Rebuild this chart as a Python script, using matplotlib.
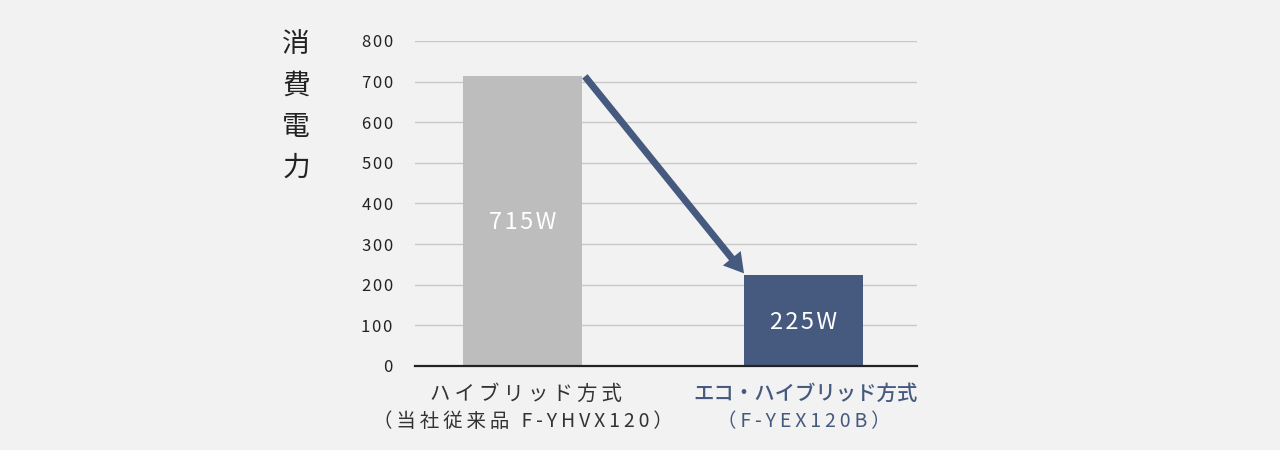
import matplotlib
matplotlib.use('Agg')
import matplotlib.pyplot as plt
from matplotlib.transforms import blended_transform_factory

plt.rcParams['font.family'] = ['Noto Sans CJK JP', 'DejaVu Sans']

# data
cat_line1 = ['ハイブリッド方式', 'エコ・ハイブリッド方式']
cat_line2 = ['（当社従来品 F-YHVX120）', '（F-YEX120B）']
values = [715, 225]
value_labels = ['715W', '225W']
yticks = [0, 100, 200, 300, 400, 500, 600, 700, 800]
ylabel = '消\n費\n電\n力'

bar_colors = ['#bdbdbd', '#465a7f']
label_colors = ['#333333', '#465a7f']
line1_weight = ['normal', 'medium']
line1_shift = [0.012, 0.007]
bg = '#f2f2f2'
bw = 0.4235

THIN = '\u2009'
HAIR = '\u200a'
line1_gap = [THIN, '']


def spaced(s, sp):
    # letter spacing by padding characters with narrow spaces
    return sp.join(s)


fig = plt.figure(figsize=(12.8, 4.5), dpi=100, facecolor=bg)
ax = fig.add_axes([0.3242, 0.1867, 0.3922, 0.7222], facecolor=bg)

xs = list(range(len(values)))
ax.bar(xs, values, width=bw, color=bar_colors, zorder=3)
for x, v, t in zip(xs, values, value_labels):
    ax.text(x, v / 2 - 5, spaced(t, HAIR), color='white', fontsize=17, ha='center', va='center', zorder=4)

# arrow between the bar tops
ax.annotate('', xy=(xs[1] - bw / 2, values[1] + 3), xytext=(xs[0] + bw / 2 + 0.01, values[0] - 2),
            arrowprops=dict(arrowstyle='simple,tail_width=0.5,head_width=1.65,head_length=1.4',
                            mutation_scale=10, color='#465a7f', lw=0, shrinkA=0, shrinkB=0), zorder=5)

ax.set_xlim(-0.383, 1.404)
ax.set_ylim(0, 800)
ax.set_yticks(yticks)
ax.set_yticklabels([spaced(str(t), HAIR) for t in yticks])
ax.yaxis.grid(True, color='#c8c8c8', lw=1, zorder=0)
ax.set_axisbelow(True)
for s in ['top', 'right', 'left']:
    ax.spines[s].set_visible(False)
ax.spines['bottom'].set_color('#222222')
ax.spines['bottom'].set_linewidth(1.6)
ax.spines['bottom'].set_zorder(6)
ax.tick_params(axis='y', length=0, pad=16, labelsize=12, labelcolor='#222222')
ax.set_xticks([])

tr = blended_transform_factory(ax.transData, ax.transAxes)
for x, l1, l2, c, w, dx, g in zip(xs, cat_line1, cat_line2, label_colors, line1_weight, line1_shift, line1_gap):
    ax.text(x + dx, -0.086, spaced(l1, g), transform=tr, ha='center', va='center',
            fontsize=14.7, color=c, fontweight=w)
    ax.text(x, -0.172, spaced(l2, THIN), transform=tr, ha='center', va='center',
            fontsize=14, color=c)

fig.text(296 / 1280, 1 - 106 / 450, ylabel, fontsize=20, ha='center', va='center',
         linespacing=1.48, color='#222222')

fig.savefig('out.png', dpi=100, facecolor=bg)
